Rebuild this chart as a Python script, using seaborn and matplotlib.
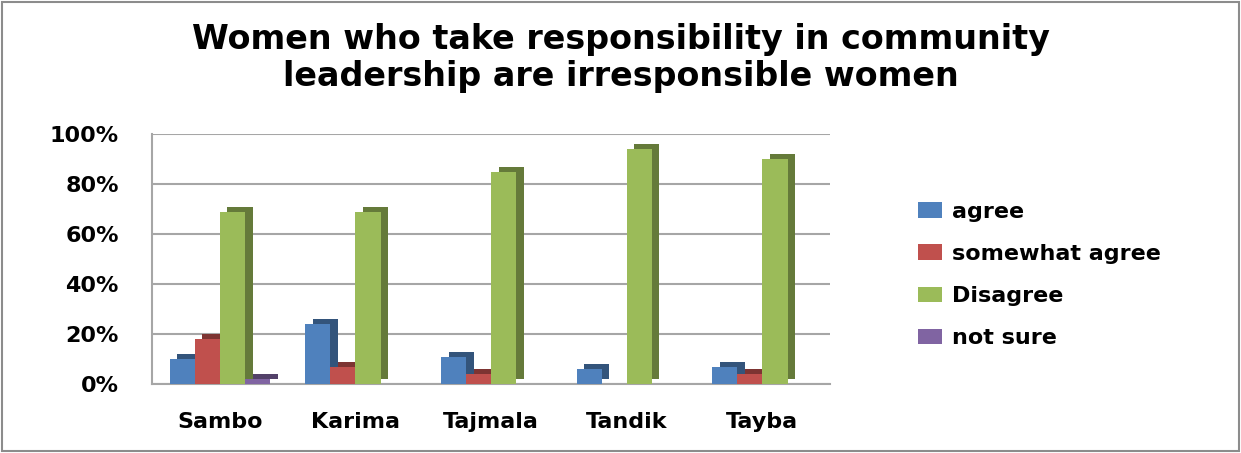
import numpy as np
import pandas as pd
import matplotlib
matplotlib.use("Agg")
import matplotlib.pyplot as plt
import matplotlib.patheffects as pe
import seaborn as sns

# values (percent)
villages = ["Sambo", "Karima", "Tajmala", "Tandik", "Tayba"]
answers = ["agree", "somewhat agree", "Disagree", "not sure"]
agree = [10, 24, 11, 6, 7]
somewhat_agree = [18, 7, 4, 0, 4]
disagree = [69, 69, 85, 94, 90]
not_sure = [2, 0, 0, 0, 0]
yticks = [0, 20, 40, 60, 80, 100]
ytick_labels = ["0%", "20%", "40%", "60%", "80%", "100%"]

colors = ["#4F81BD", "#C0504D", "#9BBB59", "#8064A2"]

rows = []
for i, v in enumerate(villages):
    for a, vals in zip(answers, [agree, somewhat_agree, disagree, not_sure]):
        rows.append({"village": v, "answer": a, "pct": vals[i]})
df = pd.DataFrame(rows)

sns.set_style("white")
plt.rcParams['font.family'] = ['DejaVu Sans']
plt.rcParams['text.color'] = 'black'
plt.rcParams['xtick.color'] = 'black'
plt.rcParams['ytick.color'] = 'black'

fig = plt.figure(figsize=(12.41, 4.53), dpi=100)
ax = fig.add_axes([0.1225, 0.152, 0.5465, 0.552])

sns.barplot(data=df, x="village", y="pct", hue="answer", hue_order=answers,
            palette=colors, width=0.74, saturation=1, ax=ax, zorder=3)

# fake 3d depth: darker copy of each bar pushed up and right
for p in ax.patches:
    p.set_path_effects([pe.withSimplePatchShadow(offset=(5.5, 3.5), alpha=1, rho=0.65),
                        pe.Normal()])
    p.set_linewidth(0)

ax.set_ylim(0, 100)
ax.set_yticks(yticks)
ax.set_yticklabels(ytick_labels, fontsize=16, fontweight="bold")
ax.tick_params(axis="x", labelsize=16, pad=20)
for t in ax.get_xticklabels():
    t.set_fontweight("bold")
ax.tick_params(axis="y", pad=24, length=0)
ax.tick_params(axis="x", length=0)
ax.set_xlabel("")
ax.set_ylabel("")
ax.yaxis.grid(True, color="#a6a6a6", linewidth=1.5, zorder=0)
ax.set_axisbelow(True)
for s in ["top", "right"]:
    ax.spines[s].set_visible(False)
ax.spines["left"].set_color("#a6a6a6")
ax.spines["left"].set_linewidth(1.5)
ax.spines["bottom"].set_color("#a6a6a6")
ax.spines["bottom"].set_linewidth(1.5)

leg = ax.legend(loc="center left", bbox_to_anchor=(1.1, 0.436), frameon=False,
                handlelength=1.1, handleheight=0.7, handletextpad=0.45, labelspacing=1.0,
                prop={"size": 16, "weight": "bold"})
for h in leg.legend_handles:
    h.set_path_effects([])

fig.suptitle("Women who take responsibility in community\nleadership are irresponsible women",
             fontsize=24, fontweight="bold", y=0.95, linespacing=1.15)

fig.patches.append(plt.Rectangle((0.002, 0.004), 0.996, 0.992, transform=fig.transFigure,
                                 fill=False, edgecolor="#8c8c8c", linewidth=1.5))

fig.savefig("out.png", dpi=100)
